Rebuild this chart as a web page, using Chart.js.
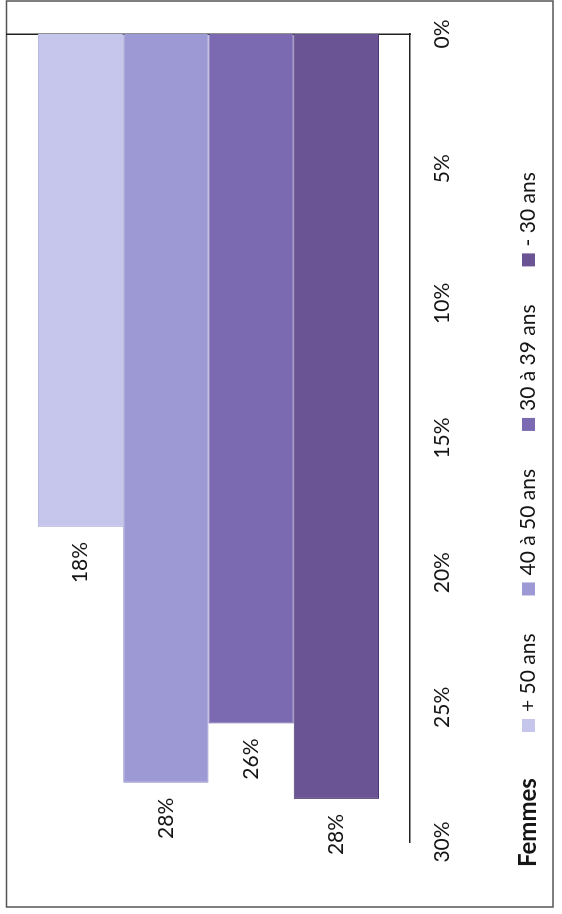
<!DOCTYPE html>
<html lang="fr">
<head>
<meta charset="utf-8">
<title>Femmes par tranche d'âge</title>
<script src="https://cdn.jsdelivr.net/npm/chart.js@4.4.1/dist/chart.umd.min.js"></script>
<style>
  html, body { margin: 0; padding: 0; background: #fff; }
  body { width: 562px; height: 914px; overflow: hidden; position: relative; }
  /* the chart is laid out landscape and turned a quarter turn */
  #wrap {
    position: absolute; left: 0; top: 0;
    width: 914px; height: 562px;
    transform-origin: 0 0;
    transform: translate(0, 914px) rotate(-90deg);
  }
</style>
</head>
<body>
<div id="wrap"><canvas id="chart" width="914" height="562"></canvas></div>
<script>
'use strict';

const categories = ['Femmes'];
const seriesNames = ['+ 50 ans', '40 à 50 ans', '30 à 39 ans', '- 30 ans'];
const seriesValues = [18.3, 27.8, 25.6, 28.4];
const seriesColors = ['#c6c6ec', '#9c99d4', '#7b69b2', '#6b5494'];
const seriesEdges = ['#b8b8e2', '#8a87c8', '#6a58a2', '#4a3874'];
const tickValues = [0, 5, 10, 15, 20, 25, 30];
const tickLabels = ['0%', '5%', '10%', '15%', '20%', '25%', '30%'];

const textColor = '#151515';

// grey frame round the whole chart
const frame = {
	id: 'frame',
	beforeDraw(chart) {
		const c = chart.ctx;
		c.save();
		c.fillStyle = '#fff';
		c.fillRect(0, 0, chart.width, chart.height);
		c.strokeStyle = '#555';
		c.lineWidth = 1.5;
		c.strokeRect(7, 6.5, 906, 546.5);
		c.restore();
	}
};

// value labels just past the end of each bar
const barLabels = {
	id: 'barLabels',
	afterDatasetsDraw(chart) {
		const c = chart.ctx;
		c.save();
		c.font = '21px Lato';
		c.fillStyle = textColor;
		c.textAlign = 'right';
		c.textBaseline = 'middle';
		chart.data.datasets.forEach((ds, i) => {
			const bar = chart.getDatasetMeta(i).data[0];
			c.fillText(Math.round(ds.data[0]) + '%', bar.x - 15, bar.y);
		});
		c.restore();
	}
};

// legend row, category name first in bold
const legendRow = {
	id: 'legendRow',
	afterDraw(chart) {
		const c = chart.ctx;
		const y = 528.5;
		c.save();
		c.textBaseline = 'middle';
		c.textAlign = 'left';
		c.fillStyle = textColor;
		c.font = 'bold 24px Lato';
		c.fillText(categories[0], 47, y);

		c.font = '21px Lato';
		let x = 182;
		chart.data.datasets.forEach(ds => {
			c.fillStyle = ds.backgroundColor;
			c.fillRect(x, y - 6.5, 13, 13);
			c.fillStyle = textColor;
			c.fillText(ds.label, x + 20, y);
			x += 20 + c.measureText(ds.label).width + 38;
		});
		c.restore();
	}
};

new Chart(document.getElementById('chart'), {
	type: 'bar',
	data: {
		labels: categories,
		datasets: seriesNames.map((name, i) => ({
			label: name,
			data: [seriesValues[i]],
			backgroundColor: seriesColors[i],
			borderColor: seriesEdges[i],
			borderWidth: 1
		}))
	},
	options: {
		indexAxis: 'y',
		responsive: false,
		animation: false,
		layout: { padding: { left: 72, right: 34, top: 7, bottom: 0 } },
		datasets: { bar: { categoryPercentage: 0.846, barPercentage: 1 } },
		scales: {
			x: {
				min: 0,
				max: 30,
				reverse: true,
				position: 'bottom',
				grid: { display: false, drawTicks: false },
				border: { display: true, color: '#222', width: 1.5 },
				ticks: {
					stepSize: 5,
					padding: 20,
					maxRotation: 0,
					color: textColor,
					font: { family: 'Lato', size: 21 },
					callback: v => tickLabels[tickValues.indexOf(v)]
				},
				afterFit: s => {
					s.height = 152;
					s.paddingLeft = 0;
					s.paddingRight = 0;
				}
			},
			y: {
				position: 'right',
				grid: { display: false, drawTicks: false },
				border: { display: true, color: '#222', width: 1.5 },
				ticks: { display: false },
				afterFit: s => {
					s.width = 0;
					s.paddingTop = 0;
					s.paddingBottom = 0;
				}
			}
		},
		plugins: {
			legend: { display: false },
			tooltip: { enabled: false }
		}
	},
	plugins: [frame, barLabels, legendRow]
});
</script>
</body>
</html>
